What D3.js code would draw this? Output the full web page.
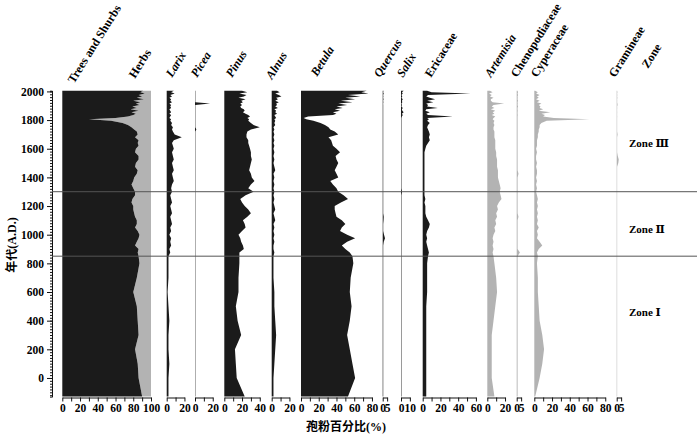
<!DOCTYPE html>
<html>
<head>
<meta charset="utf-8">
<script src="https://cdn.jsdelivr.net/npm/d3@7"></script>
<style>
body { margin: 0; background: #fff; }
text { font-family: "Liberation Serif", "DejaVu Serif", "Noto Sans CJK SC", serif; font-weight: bold; }
</style>
</head>
<body>
<div id="chart"></div>
<script>
// sample ages (A.D.), top to bottom
var years = [2005, 1995, 1985, 1975, 1965, 1955, 1945, 1935, 1925, 1915,
    1905, 1895, 1885, 1875, 1865, 1855, 1845, 1835, 1825, 1815,
    1805, 1795, 1780, 1765, 1750, 1735, 1720, 1700, 1680, 1660,
    1640, 1620, 1600, 1575, 1550, 1525, 1500, 1475, 1450, 1425,
    1400, 1375, 1350, 1325, 1300, 1275, 1250, 1225, 1200, 1175,
    1150, 1125, 1100, 1075, 1050, 1025, 1000, 975, 950, 925,
    900, 875, 850, 800, 700, 600, 500, 400, 300, 200,
    100, 0, -130];

var trees = [91, 88, 93, 86, 90, 84, 92, 80, 88, 83,
    87, 79, 84, 77, 86, 78, 83, 80, 74, 60,
    30, 55, 68, 74, 78, 81, 84, 85, 82, 86,
    85, 86, 83, 82, 86, 86, 83, 82, 85, 84,
    81, 80, 78, 80, 82, 82, 79, 78, 80, 80,
    81, 82, 84, 84, 82, 85, 87, 86, 84, 82,
    86, 85, 86, 87, 84, 80, 84, 85, 86, 82,
    85, 86, 90];

var larix = [8, 5, 9, 4, 6, 3, 5, 4, 6, 3,
    5, 4, 5, 3, 4, 5, 3, 5, 4, 3,
    5, 4, 6, 5, 7, 6, 7, 9, 17, 8,
    6, 7, 8, 6, 7, 8, 6, 7, 8, 6,
    7, 8, 6, 5, 6, 4, 5, 6, 4, 5,
    6, 4, 5, 6, 4, 5, 3, 5, 4, 5,
    3, 4, 2, 2, 2, 1, 2, 3, 2, 2,
    3, 2, 2];

var picea = [0.4, 0.4, 0.4, 0.4, 0.4, 0.4, 0.4, 0.4, 0.4, 17,
    0.4, 0.4, 0.4, 0.4, 0.4, 0.4, 0.4, 0.4, 0.4, 0.4,
    0.4, 0.4, 0.4, 0.4, 0.4, 1.5, 0.4, 0.4, 0.4, 0.4,
    0.4, 0.4, 0.4, 0.4, 0.4, 0.4, 0.4, 0.4, 0.4, 0.4,
    0.4, 0.4, 0.4, 0.4, 0.4, 0.4, 0.4, 0.4, 0.4, 0.4,
    0.4, 0.4, 0.4, 0.4, 0.4, 0.4, 0.4, 0.4, 0.4, 0.4,
    0.4, 0.4, 0.4, 0.4, 0.4, 0.4, 0.4, 0.4, 0.4, 0.4,
    0.4, 0.4, 0.4];

var pinus = [20, 26, 17, 25, 22, 16, 24, 19, 21, 18,
    20, 18, 19, 22, 23, 21, 24, 27, 29, 26,
    28, 27, 30, 33, 40, 30, 26, 25, 25, 27,
    27, 28, 29, 30, 30, 31, 30, 29, 28, 30,
    31, 34, 30, 27, 33, 24, 18, 20, 23, 27,
    30, 26, 21, 23, 24, 20, 16, 18, 19, 21,
    22, 17, 17, 17, 16, 16, 13, 15, 19, 12,
    13, 14, 23];

var alnus = [6, 9, 4, 8, 11, 5, 7, 4, 8, 5,
    6, 4, 7, 3, 5, 4, 6, 3, 4, 5,
    3, 4, 3, 4, 2, 3, 2, 3, 2, 3,
    2, 3, 2, 3, 2, 3, 2, 3, 4, 2,
    3, 2, 3, 2, 3, 2, 3, 2, 3, 4,
    2, 3, 4, 2, 3, 2, 3, 2, 3, 2,
    2, 3, 2, 2, 2, 3, 3, 4, 5, 4,
    3, 2, 2];

var betula = [74, 68, 76, 53, 67, 50, 61, 45, 58, 42,
    52, 40, 47, 38, 44, 36, 40, 36, 8, 3,
    6, 14, 22, 27, 31, 33, 38, 42, 31, 34,
    35, 36, 40, 44, 39, 40, 42, 40, 38, 40,
    42, 33, 36, 40, 42, 48, 53, 45, 38, 38,
    39, 40, 46, 50, 46, 44, 52, 61, 52, 46,
    50, 55, 58, 59, 56, 55, 57, 55, 52, 55,
    58, 61, 53];

var quercus = [1, 0.5, 1.2, 0.5, 0.8, 0.5, 1, 0.5, 0.8, 0.5,
    0.6, 0.6, 0.6, 0.6, 0.6, 0.6, 0.6, 0.6, 0.6, 0.6,
    0.6, 0.6, 0.6, 0.6, 0.6, 0.6, 0.6, 0.6, 0.6, 0.6,
    0.6, 0.6, 0.6, 0.6, 0.6, 0.6, 0.6, 0.6, 0.6, 0.6,
    0.6, 0.6, 0.6, 0.6, 0.6, 0.6, 0.6, 0.6, 0.6, 0.6,
    0.6, 1.2, 1, 0.6, 0.6, 0.6, 1.5, 2.6, 1.2, 0.6,
    0.6, 0.6, 0.6, 0.6, 0.6, 0.6, 0.6, 0.6, 0.6, 0.6,
    0.6, 0.6, 0.6];

var salix = [3, 1, 2, 0.5, 1.5, 0.5, 2, 1, 1.5, 0.5,
    1, 0.5, 2, 1, 1.5, 3, 1, 2, 1, 0.5,
    0.5, 0.5, 0.5, 0.5, 0.5, 0.5, 0.5, 0.5, 0.5, 0.5,
    0.5, 0.5, 0.5, 0.5, 0.5, 0.5, 0.5, 0.5, 0.5, 0.5,
    0.5, 0.5, 0.5, 0.5, 1.2, 0.5, 0.5, 0.5, 0.5, 0.5,
    0.5, 0.5, 0.5, 0.5, 0.5, 0.5, 0.5, 0.5, 0.5, 0.5,
    0.5, 0.5, 0.5, 0.5, 0.5, 0.5, 0.5, 0.5, 0.5, 0.5,
    0.5, 0.5, 0.5];

var ericaceae = [5, 10, 54, 6, 4, 8, 14, 5, 12, 4,
    6, 5, 17, 4, 3, 8, 4, 6, 34, 5,
    7, 5, 8, 6, 5, 6, 7, 8, 7, 8,
    6, 4, 3, 2, 2, 2, 2, 2, 2, 2,
    2, 2, 2, 2, 2, 2, 3, 2, 3, 3,
    3, 4, 6, 8, 7, 5, 4, 5, 4, 5,
    6, 7, 6, 5, 5, 5, 4, 4, 4, 4,
    4, 4, 4];

var artemisia = [3, 6, 2, 5, 3, 7, 4, 4, 6, 19,
    7, 5, 8, 4, 9, 6, 8, 5, 9, 7,
    6, 8, 7, 8, 7, 7, 8, 8, 8, 9,
    9, 9, 9, 10, 10, 11, 11, 11, 12, 12,
    12, 13, 14, 15, 14, 15, 16, 13, 11, 12,
    10, 11, 9, 10, 8, 9, 7, 6, 7, 6,
    7, 6, 7, 8, 10, 11, 9, 7, 5, 5,
    5, 5, 8];

var chenopodiaceae = [1, 1.5, 1, 1.5, 1, 1.2, 1, 1.5, 1, 1.2,
    1, 1.5, 1, 1, 1.2, 1, 1, 1.2, 1, 1,
    1, 1, 1, 1, 1, 1, 1, 1, 1, 1,
    1, 1, 1, 1, 1, 1, 1, 1, 1, 2,
    1, 1, 1, 1, 1, 1, 1, 1, 1, 1,
    1, 2, 1, 1, 1, 1, 1, 1, 1, 1,
    1, 3.6, 1, 1, 1, 1, 1, 1, 1, 1,
    1, 1, 1];

var cyperaceae = [1, 4, 2, 6, 3, 5, 2, 6, 3, 8,
    5, 7, 6, 10, 5, 18, 8, 12, 10, 22,
    62, 14, 8, 6, 6, 5, 5, 4, 4, 3,
    3, 3, 2, 3, 2, 2, 3, 2, 3, 3,
    2, 3, 2, 3, 2, 3, 4, 3, 4, 3,
    4, 3, 4, 3, 5, 3, 4, 3, 6, 9,
    5, 3, 4, 3, 4, 4, 5, 6, 9, 11,
    9, 6, 1];

var gramineae = [0.5, 0.8, 0.5, 0.7, 0.5, 0.8, 0.5, 0.6, 0.5, 0.8,
    1, 0.5, 0.6, 0.5, 0.5, 0.6, 0.5, 0.5, 0.6, 0.5,
    0.5, 0.5, 0.5, 0.5, 0.5, 0.5, 0.5, 1, 0.5, 0.5,
    0.5, 0.5, 0.5, 0.5, 1.2, 2.3, 1.8, 0.5, 0.5, 0.5,
    0.5, 0.5, 0.5, 0.5, 0.5, 0.5, 0.5, 0.5, 0.5, 0.5,
    0.5, 0.5, 0.5, 0.5, 0.5, 0.5, 0.5, 0.5, 0.5, 0.5,
    0.5, 0.5, 0.5, 0.5, 0.5, 0.5, 0.5, 0.5, 0.5, 0.5,
    0.5, 0.5, 0.5];

var zoneBounds = [1300, 850];
var zoneNames = ["Zone \u2162", "Zone \u2161", "Zone \u2160"];
var zoneLabelYears = [1640, 1040, 460];
var yTicks = d3.range(0, 2001, 200);

var BLACK = "#1b1b1b", GREY = "#b3b3b3";

// panel layout: left edge in px, full scale %, tick step, label step
var panels = [
    {values: trees, left: 62.3, max: 100, tick: 10, label: 20, fill: BLACK, herbs: true},
    {values: larix, left: 166.7, max: 20, tick: 10, label: 20, fill: BLACK},
    {values: picea, left: 195, max: 20, tick: 10, label: 20, fill: BLACK},
    {values: pinus, left: 224.3, max: 40, tick: 10, label: 20, fill: BLACK},
    {values: alnus, left: 271.7, max: 20, tick: 10, label: 20, fill: BLACK},
    {values: betula, left: 301, max: 80, tick: 10, label: 20, fill: BLACK},
    {values: quercus, left: 382.7, max: 5, tick: 5, label: 5, fill: BLACK},
    {values: salix, left: 401, max: 10, tick: 10, label: 10, fill: BLACK},
    {values: ericaceae, left: 422.7, max: 60, tick: 10, label: 20, fill: BLACK},
    {values: artemisia, left: 487.3, max: 20, tick: 10, label: 20, fill: GREY},
    {values: chenopodiaceae, left: 516.7, max: 5, tick: 5, label: 5, fill: GREY},
    {values: cyperaceae, left: 534.3, max: 80, tick: 10, label: 20, fill: GREY},
    {values: gramineae, left: 616.7, max: 5, tick: 5, label: 5, fill: GREY}
];

var headers = [
    {text: "Trees and Shurbs", x: 74, y: 84, italic: false},
    {text: "Herbs", x: 135, y: 79, italic: false},
    {text: "Larix", x: 172, y: 78, italic: true},
    {text: "Picea", x: 197, y: 78, italic: true},
    {text: "Pinus", x: 232, y: 78, italic: true},
    {text: "Alnus", x: 272, y: 80, italic: true},
    {text: "Betula", x: 317, y: 77, italic: true},
    {text: "Quercus", x: 380, y: 78, italic: true},
    {text: "Salix", x: 403, y: 78, italic: true},
    {text: "Ericaceae", x: 431, y: 78, italic: false},
    {text: "Artemisia", x: 491, y: 78, italic: true},
    {text: "Chenopodiaceae", x: 517, y: 78, italic: false},
    {text: "Cyperaceae", x: 537, y: 78, italic: false},
    {text: "Gramineae", x: 615, y: 78, italic: false},
    {text: "Zone", x: 648, y: 69, italic: false}
];

var pxPerPct = 0.887;
var axisY = 397.5;

var svg = d3.select("#chart").append("svg")
    .attr("width", 700)
    .attr("height", 436);

var y = d3.scaleLinear()
    .domain([-130, 2005])
    .range([396.6, 90.7]);

// pollen curves
panels.forEach(function (p) {
    var x = d3.scaleLinear()
        .domain([0, p.max])
        .range([p.left, p.left + p.max * pxPerPct]);

    var g = svg.append("g");

    if (p.herbs) {
        // herbs fill the rest of the sum to 100%
        var herbArea = d3.area()
            .y(function (d, i) { return y(years[i]); })
            .x0(function (d) { return x(d); })
            .x1(x(100));
        g.append("path").datum(p.values)
            .attr("d", herbArea)
            .attr("fill", GREY);
    }

    var area = d3.area()
        .y(function (d, i) { return y(years[i]); })
        .x0(x(0))
        .x1(function (d) { return x(d); });

    g.append("path").datum(p.values)
        .attr("d", area)
        .attr("fill", p.fill);

    var xAxis = d3.axisBottom(x)
        .tickValues(d3.range(0, p.max + 0.001, p.tick))
        .tickSize(4)
        .tickSizeOuter(0)
        .tickFormat(function (d) { return d % p.label === 0 ? d : ""; });

    var ga = g.append("g")
        .attr("transform", "translate(0," + axisY + ")")
        .call(xAxis);
    ga.selectAll("text").style("font-size", "11.5px").attr("dy", "0.85em").attr("y", 5);
    ga.selectAll("path,line").attr("stroke", "#111");
});

// y axis with fine minor ticks
var yMinor = d3.axisLeft(y)
    .tickValues(d3.range(-120, 2001, 20))
    .tickSize(2)
    .tickFormat("");
svg.append("g")
    .attr("transform", "translate(52,0)")
    .call(yMinor)
    .selectAll("path,line").attr("stroke", "#111");

var yAxis = d3.axisLeft(y)
    .tickValues(yTicks)
    .tickSize(5)
    .tickSizeOuter(0)
    .tickFormat(d3.format("d"));
var gy = svg.append("g")
    .attr("transform", "translate(52,0)")
    .call(yAxis);
gy.selectAll("text").style("font-size", "11.5px");
gy.selectAll("path,line").attr("stroke", "#111");

// zone boundaries
svg.selectAll(".zoneLine")
    .data(zoneBounds)
    .enter().append("line")
    .attr("class", "zoneLine")
    .attr("x1", 52)
    .attr("x2", 697)
    .attr("y1", function (d) { return y(d); })
    .attr("y2", function (d) { return y(d); })
    .attr("stroke", "#555")
    .attr("stroke-width", 1);

svg.selectAll(".zoneLabel")
    .data(zoneNames)
    .enter().append("text")
    .attr("class", "zoneLabel")
    .attr("x", 629)
    .attr("y", function (d, i) { return y(zoneLabelYears[i]) + 4; })
    .style("font-size", "11px")
    .text(function (d) { return d; });

// rotated taxon headers
svg.selectAll(".header")
    .data(headers)
    .enter().append("text")
    .attr("class", "header")
    .attr("transform", function (d) { return "translate(" + d.x + "," + d.y + ") rotate(-58)"; })
    .style("font-size", "12px")
    .style("font-style", function (d) { return d.italic ? "italic" : "normal"; })
    .text(function (d) { return d.text; });

// axis titles
svg.append("text")
    .attr("transform", "translate(16,245) rotate(-90)")
    .attr("text-anchor", "middle")
    .style("font-size", "12px")
    .text("年代(A.D.)");

svg.append("text")
    .attr("x", 346)
    .attr("y", 431)
    .attr("text-anchor", "middle")
    .style("font-size", "12px")
    .text("孢粉百分比(%)");
</script>
</body>
</html>
